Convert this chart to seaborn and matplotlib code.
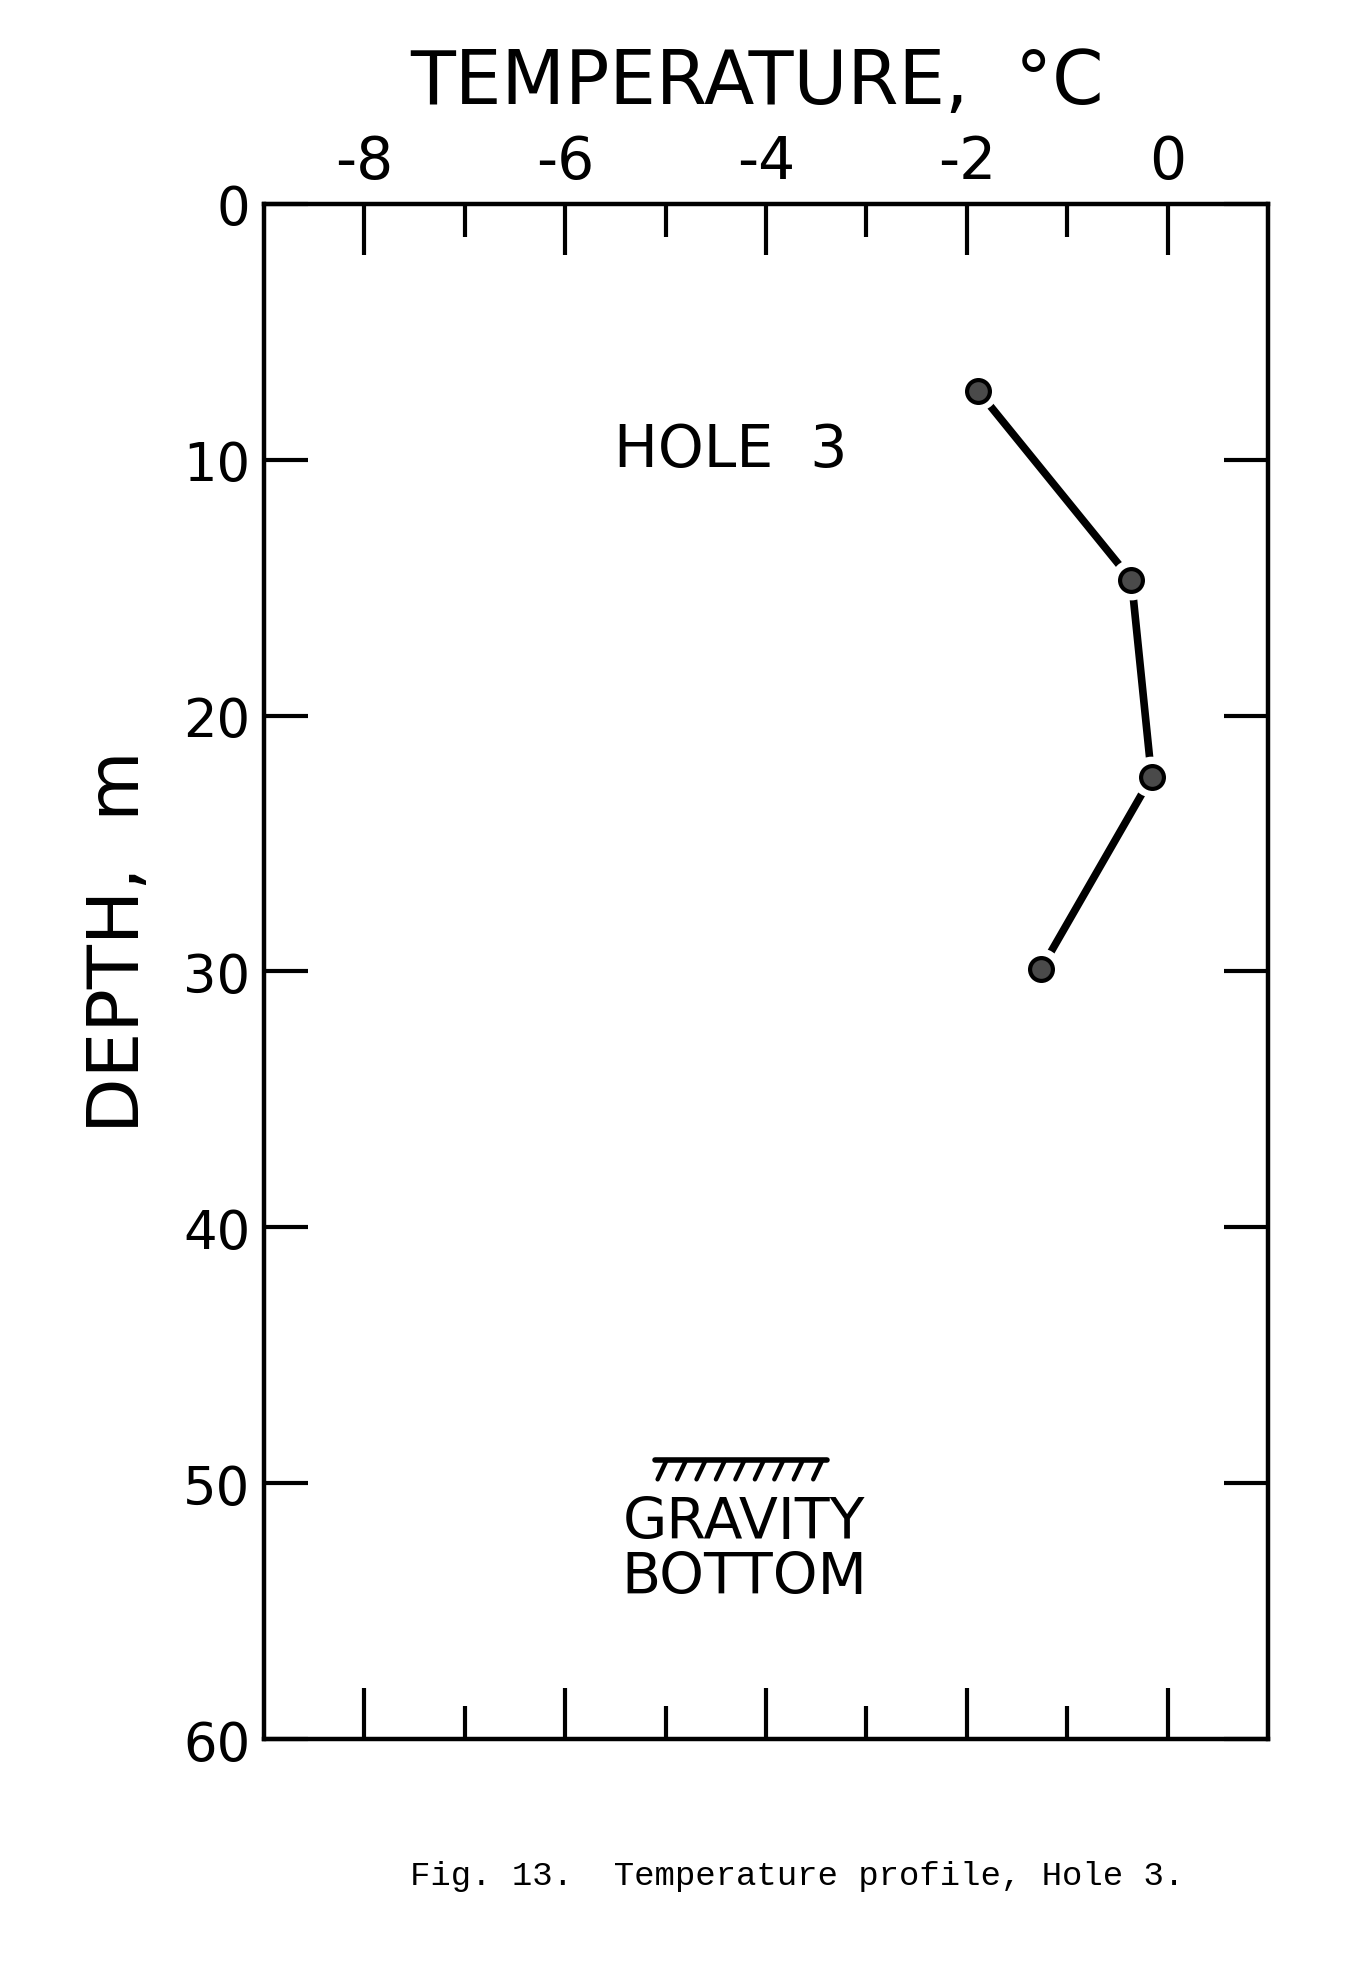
import numpy as np
import pandas as pd
import matplotlib
matplotlib.use("Agg")
import matplotlib.pyplot as plt
import seaborn as sns

# ---- data ----
temperature_c = [-1.89, -0.36, -0.16, -1.26]
depth_m = [7.3, 14.7, 22.4, 29.9]

x_major_ticks = [-8, -6, -4, -2, 0]
x_minor_ticks = [-7, -5, -3, -1]
y_major_ticks = [0, 10, 20, 30, 40, 50, 60]

hole_label = "HOLE  3"
hole_label_pos = (-4.35, 9.6)

gravity_bottom_depth = 49.1
gravity_bottom_x = (-5.11, -3.39)
gravity_label = "GRAVITY\nBOTTOM"
gravity_label_pos = (-4.22, 52.6)

title_text = "TEMPERATURE,  °C"
ylabel_text = "DEPTH,  m"
caption_text = "Fig. 13.  Temperature profile, Hole 3."

df = pd.DataFrame({"temperature": temperature_c, "depth": depth_m})

sns.set_theme(style="white")
plt.rcParams["font.family"] = ["DejaVu Sans"]
plt.rcParams["axes.unicode_minus"] = False

fig = plt.figure(figsize=(13.71, 19.65), dpi=100)
ax = fig.add_axes([0.1926, 0.1145, 0.7323, 0.7812])

# profile line
sns.lineplot(data=df, x="temperature", y="depth", sort=False, estimator=None,
             color="black", linewidth=5.5, ax=ax, zorder=2)
# white halos to create the gap between line and dots
sns.scatterplot(data=df, x="temperature", y="depth", s=860, color="white",
                edgecolor="none", linewidth=0, ax=ax, zorder=3)
# dots
sns.scatterplot(data=df, x="temperature", y="depth", s=270, color="#4a4a4a",
                edgecolor="black", linewidth=3, ax=ax, zorder=4)

ax.set_xlim(-9, 1)
ax.set_ylim(60, 0)

ax.set_xticks(x_major_ticks)
ax.set_xticks(x_minor_ticks, minor=True)
ax.set_yticks(y_major_ticks)
ax.set_xticklabels([str(v) for v in x_major_ticks])
ax.set_yticklabels([str(v) for v in y_major_ticks])

ax.tick_params(axis="x", which="major", direction="in", length=37, width=3,
               top=True, bottom=True, labeltop=True, labelbottom=False,
               labelsize=42, pad=10, color="black", labelcolor="black")
ax.tick_params(axis="x", which="minor", direction="in", length=24, width=3,
               top=True, bottom=True, color="black")
ax.tick_params(axis="y", which="major", direction="in", length=32, width=3,
               left=True, right=True, labelleft=True, labelright=False,
               labelsize=38, pad=10, color="black", labelcolor="black")

for sp in ax.spines.values():
    sp.set_visible(True)
    sp.set_linewidth(3.2)
    sp.set_color("black")

ax.set_xlabel("")
ax.set_ylabel("")

# annotations
ax.text(hole_label_pos[0], hole_label_pos[1], hole_label, ha="center", va="center",
        fontsize=42, color="black")

# gravity bottom symbol
gx0, gx1 = gravity_bottom_x
ax.plot([gx0, gx1], [gravity_bottom_depth, gravity_bottom_depth], color="black",
        linewidth=4, solid_capstyle="round", zorder=3)
for hx in np.linspace(gx0 + 0.12, gx1 - 0.05, 9):
    ax.plot([hx, hx - 0.09], [gravity_bottom_depth, gravity_bottom_depth + 0.75],
            color="black", linewidth=3.2, solid_capstyle="round", zorder=3)
ax.text(gravity_label_pos[0], gravity_label_pos[1], gravity_label, ha="center",
        va="center", fontsize=41, color="black", linespacing=1.0)

fig.text(0.552, 0.9575, title_text, ha="center", va="center", fontsize=53, color="black")
fig.text(0.0868, 0.521, ylabel_text, ha="center", va="center", rotation=90,
         fontsize=52, color="black")
fig.text(0.299, 0.0448, caption_text, ha="left", va="center", fontsize=24.5,
         family=["Liberation Mono"], color="black")

fig.savefig("out.png", dpi=100, facecolor="white")
